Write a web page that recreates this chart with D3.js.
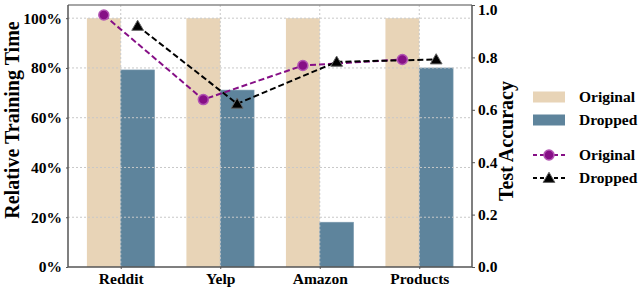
<!DOCTYPE html>
<html>
<head>
<meta charset="utf-8">
<script src="https://cdn.jsdelivr.net/npm/d3@7/dist/d3.min.js"></script>
<style>
  body { margin: 0; background: #fff; }
  text { font-family: "Liberation Serif", "Times New Roman", serif; font-weight: bold; }
</style>
</head>
<body>
<script>
// data
var datasets = ["Reddit", "Yelp", "Amazon", "Products"];
var timeOriginal = [1.00, 1.00, 1.00, 1.00];
var timeDropped = [0.792, 0.711, 0.180, 0.800];
var accOriginal = [0.962, 0.639, 0.769, 0.792];
var accDropped = [0.920, 0.623, 0.783, 0.792];
var leftTicks = [0, 0.2, 0.4, 0.6, 0.8, 1.0];
var rightTicks = [0, 0.2, 0.4, 0.6, 0.8, 1.0];
var seriesNames = ["Original", "Dropped"];

var W = 640, H = 288;
var pLeft = 68, pRight = 472, pTop = 5, pBottom = 267;

var svg = d3.select("body").append("svg")
  .attr("width", W)
  .attr("height", H);

var x = d3.scalePoint().domain(datasets).range([pLeft, pRight]).padding(0.53);
var step = x.step();
var barW = step * 0.34;
var yL = d3.scaleLinear().domain([0, 1.053]).range([pBottom, pTop]);
var yR = d3.scaleLinear().domain([0, 1.0]).range([pBottom, pTop]);

var beige = "#e8d4b7";
var blue = "#5e849c";
var purple = "#860f86";

// bars
svg.selectAll("rect.orig").data(timeOriginal).enter().append("rect")
  .attr("class", "orig")
  .attr("x", function(d, i){return x(datasets[i]) - barW;})
  .attr("y", function(d){return yL(d);})
  .attr("width", barW)
  .attr("height", function(d){return pBottom - yL(d);})
  .style("fill", beige);
svg.selectAll("rect.drop").data(timeDropped).enter().append("rect")
  .attr("class", "drop")
  .attr("x", function(d, i){return x(datasets[i]);})
  .attr("y", function(d){return yL(d);})
  .attr("width", barW)
  .attr("height", function(d){return pBottom - yL(d);})
  .style("fill", blue)
  .style("stroke", "#7d9bb0")
  .style("stroke-width", 0.6);

// grid on top of bars
svg.selectAll("line.hgrid").data(leftTicks.slice(1)).enter().append("line")
  .attr("x1", pLeft).attr("x2", pRight)
  .attr("y1", function(d){return yL(d);})
  .attr("y2", function(d){return yL(d);})
  .style("stroke", "#c8c8c8").style("stroke-width", 1)
  .style("stroke-dasharray", "2,2");
svg.selectAll("line.vgrid").data(datasets).enter().append("line")
  .attr("x1", function(d){return x(d);})
  .attr("x2", function(d){return x(d);})
  .attr("y1", pTop).attr("y2", pBottom)
  .style("stroke", "#c8c8c8").style("stroke-width", 1)
  .style("stroke-dasharray", "2,2");

// frame
svg.append("line").attr("x1", pLeft).attr("x2", pRight).attr("y1", pTop).attr("y2", pTop)
  .style("stroke", "#888").style("stroke-width", 1.5);

// axes
var fmtPct = function(d){return Math.round(d * 100) + "%";};
var gL = svg.append("g").attr("transform", "translate(" + pLeft + ",0)")
  .call(d3.axisLeft(yL).tickValues(leftTicks).tickFormat(fmtPct).tickSize(2).tickPadding(4));
var gR = svg.append("g").attr("transform", "translate(" + pRight + ",0)")
  .call(d3.axisRight(yR).tickValues(rightTicks).tickFormat(d3.format(".1f")).tickSize(3).tickPadding(3));
var gB = svg.append("g").attr("transform", "translate(0," + pBottom + ")")
  .call(d3.axisBottom(x).tickSize(2).tickPadding(4));

[gL, gR, gB].forEach(function(g){
  g.select(".domain").style("stroke", "#555").style("stroke-width", 1.5);
  g.selectAll(".tick line").style("stroke", "#555");
  g.selectAll("text").style("font-size", "15.5px").style("font-weight", "bold")
    .style("font-family", "'Liberation Serif', serif").style("fill", "#000");
});
gR.select(".domain").attr("d", "M0," + pTop + "V" + pBottom);
gL.select(".domain").attr("d", "M0," + pTop + "V" + pBottom);
gB.select(".domain").attr("d", "M" + pLeft + ",0H" + pRight);
// keep the top "1.0" label inside the picture
gR.selectAll(".tick text").filter(function(d){return d === 1;}).attr("dy", "0.6em");

// axis titles
svg.append("text")
  .attr("transform", "translate(19,120) rotate(-90)")
  .attr("text-anchor", "middle")
  .style("font-size", "20px")
  .text("Relative Training Time");
svg.append("text")
  .attr("transform", "translate(513,141) rotate(-90)")
  .attr("text-anchor", "middle")
  .style("font-size", "20px")
  .text("Test Accuracy");

// accuracy lines
var origX = function(i){return x(datasets[i]) - barW / 2;};
var dropX = function(i){return x(datasets[i]) + barW / 2;};
var lineO = d3.line().x(function(d, i){return origX(i);}).y(function(d){return yR(d);});
var lineD = d3.line().x(function(d, i){return dropX(i);}).y(function(d){return yR(d);});

svg.append("path").datum(accOriginal).attr("d", lineO)
  .style("fill", "none").style("stroke", purple).style("stroke-width", 2)
  .style("stroke-dasharray", "6,3");
svg.append("path").datum(accDropped).attr("d", lineD)
  .style("fill", "none").style("stroke", "#000").style("stroke-width", 2)
  .style("stroke-dasharray", "6,3");

var tri = d3.symbol().type(d3.symbolTriangle).size(60);

svg.selectAll("circle.acc").data(accOriginal).enter().append("circle")
  .attr("class", "acc")
  .attr("cx", function(d, i){return origX(i);})
  .attr("cy", function(d){return yR(d);})
  .attr("r", 5)
  .style("fill", purple)
  .style("stroke", "#b355b3")
  .style("stroke-width", 1.5);
svg.selectAll("path.tri").data(accDropped).enter().append("path")
  .attr("class", "tri")
  .attr("d", tri)
  .attr("transform", function(d, i){return "translate(" + dropX(i) + "," + (yR(d) + 1) + ")";})
  .style("fill", "#000")
  .style("stroke", "#666")
  .style("stroke-width", 1);

// legend
var lgX = 533, lgW = 32;
var barCols = [beige, blue];
seriesNames.forEach(function(name, i){
  var cy = 97 + i * 23;
  svg.append("rect").attr("x", lgX).attr("y", cy - 5.5).attr("width", lgW).attr("height", 11)
    .style("fill", barCols[i]);
  svg.append("text").attr("x", 579).attr("y", cy + 5).style("font-size", "15.5px").text(name);
});
var lineCols = [purple, "#000"];
seriesNames.forEach(function(name, i){
  var cy = 155 + i * 23;
  svg.append("line").attr("x1", lgX).attr("x2", lgX + lgW).attr("y1", cy).attr("y2", cy)
    .style("stroke", lineCols[i]).style("stroke-width", 2).style("stroke-dasharray", "4,3");
  if(i === 0){
    svg.append("circle").attr("cx", lgX + lgW / 2).attr("cy", cy).attr("r", 5)
      .style("fill", purple).style("stroke", "#b355b3").style("stroke-width", 1.5);
  } else {
    svg.append("path").attr("d", tri)
      .attr("transform", "translate(" + (lgX + lgW / 2) + "," + (cy + 1) + ")")
      .style("fill", "#000").style("stroke", "#666").style("stroke-width", 1);
  }
  svg.append("text").attr("x", 579).attr("y", cy + 5).style("font-size", "15.5px").text(name);
});
</script>
</body>
</html>
